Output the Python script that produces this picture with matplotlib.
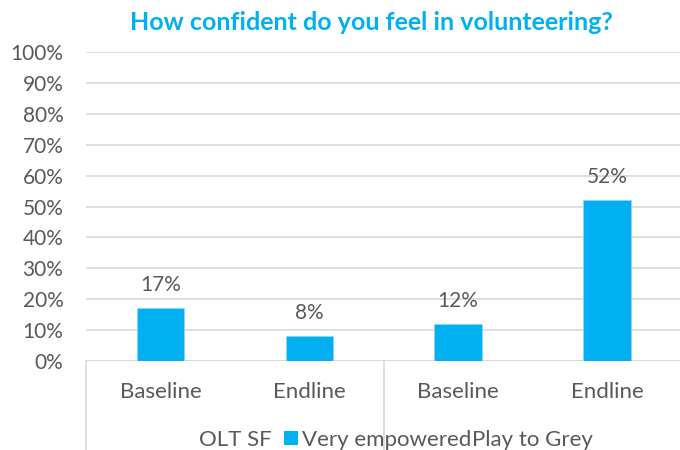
import numpy as np
import matplotlib.pyplot as plt
from matplotlib.patches import Patch
from matplotlib.ticker import PercentFormatter

plt.rcParams.update({'font.family': ['Lato', 'DejaVu Sans'], 'font.size': 15})

# datos
title = 'How confident do you feel in volunteering?'
categories = ['Baseline', 'Endline', 'Baseline', 'Endline']
groups = ['OLT SF', 'Play to Grey']
series_name = 'Very empowered'
values = [17, 8, 12, 52]

blue = '#00B0F0'
grey_txt = '#595959'
grid_col = '#D9D9D9'

fig = plt.figure(figsize=(6.8, 4.5), dpi=100)
ax = fig.add_axes([86.3/680, 89/450, 595/680, 309/450])

x = np.arange(len(categories))
bars = ax.bar(x, values, width=0.32, color=blue, edgecolor='#8AD9F7',
              linewidth=0.6, zorder=3)
ax.bar_label(bars, labels=[f'{v}%' for v in values], padding=9.5,
             color=grey_txt, fontsize=15)

ax.set_xlim(-0.5, len(categories) - 0.5)
ax.set_ylim(0, 100)
ax.set_yticks(np.arange(0, 101, 10))
ax.yaxis.set_major_formatter(PercentFormatter(decimals=0))
ax.tick_params(axis='y', length=0, pad=16.5, colors=grey_txt, labelsize=15)
ax.set_xticks([])
ax.grid(axis='y', color=grid_col, linewidth=1.2, zorder=0)
for s in ax.spines.values():
    s.set_visible(False)
ax.axhline(0, color=grid_col, linewidth=1.2, zorder=1)

# eje de categorias en dos niveles
tr = ax.get_xaxis_transform()
for xi, cat in zip(x, categories):
    ax.text(xi, -0.0994, cat, transform=tr, ha='center', va='center',
            color=grey_txt, fontsize=16)
for gi, g in enumerate(groups):
    ax.text(2 * gi + 0.5, -0.2557, g, transform=tr, ha='center', va='center',
            color=grey_txt, fontsize=16)
for xd in [-0.5, 1.5, 3.5]:
    ax.plot([xd, xd], [0, -0.3], transform=tr, color=grid_col, linewidth=1.2,
            clip_on=False)

fig.legend(handles=[Patch(facecolor=blue, label=series_name)],
           loc='center', bbox_to_anchor=(377.8/680, 10/450), frameon=False,
           handlelength=0.62, handleheight=0.62, handletextpad=0.22,
           labelcolor=grey_txt, fontsize=16, borderpad=0)

fig.text(371/680, 1 - 22/450, title, ha='center', va='center', color=blue,
         fontsize=18, fontweight='bold')

fig.savefig('out.png', dpi=100)
